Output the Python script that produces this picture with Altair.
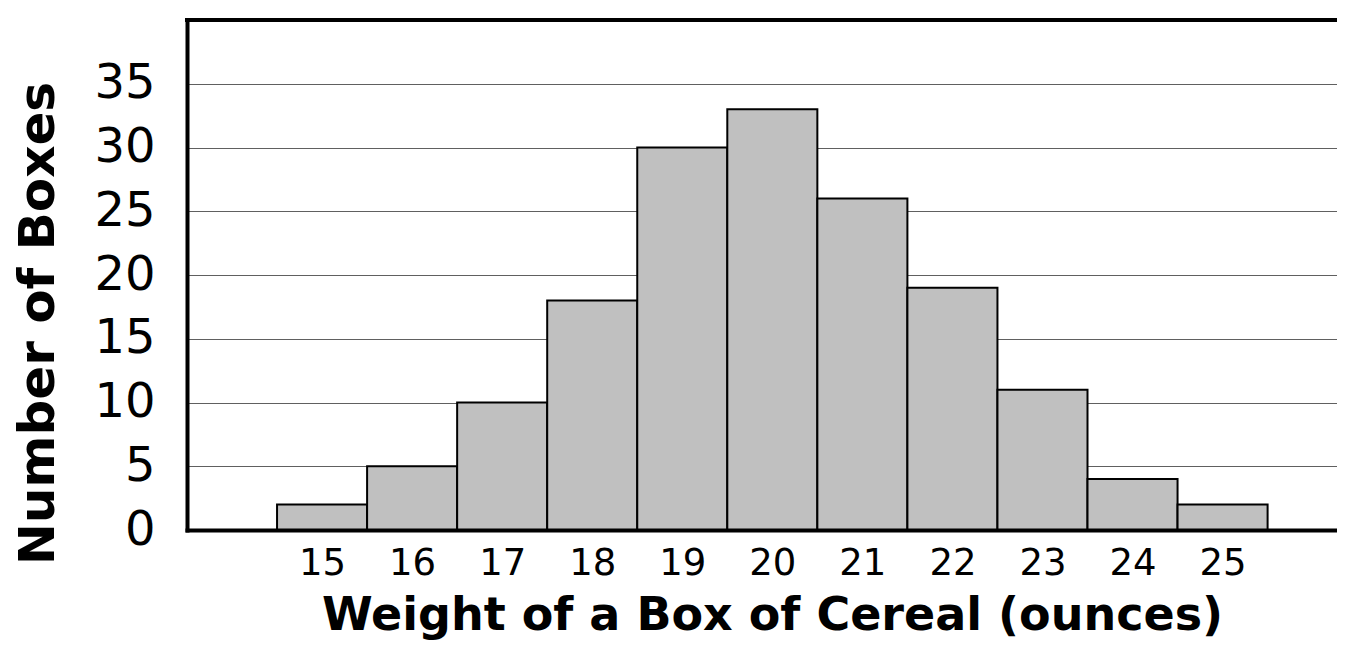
import altair as alt
import pandas as pd

weights = [15, 16, 17, 18, 19, 20, 21, 22, 23, 24, 25]
counts = [2, 5, 10, 18, 30, 33, 26, 19, 11, 4, 2]
y_ticks = [0, 5, 10, 15, 20, 25, 30, 35]

df = pd.DataFrame({"weight": weights, "count": counts})

FONT = "DejaVu Sans"
W, H = 1150, 510

xscale = alt.Scale(domain=[13.5, 13.5 + W / 90.05], nice=False, zero=False)
yscale = alt.Scale(domain=[0, 40], nice=False)

bars = alt.Chart(df).transform_calculate(
    x0="datum.weight - 0.5", x1="datum.weight + 0.5"
).mark_bar(fill="#c0c0c0", stroke="black", strokeWidth=2).encode(
    x=alt.X("x0:Q", scale=xscale, axis=alt.Axis(
        values=weights, title="Weight of a Box of Cereal (ounces)",
        grid=False, ticks=False, tickSize=0, domain=True, domainColor="black",
        domainWidth=4, domainCap="square", labelFont=FONT, labelFontSize=37,
        labelColor="black", labelBaseline="alphabetic", labelPadding=44,
        labelFlush=False, labelOverlap=False,
        titleFont=FONT, titleFontSize=46, titleFontWeight="bold", titleColor="black",
        titleBaseline="alphabetic", titleX=585, titleY=99, titleAlign="center",
        zindex=1,
    )),
    x2="x1:Q",
    y=alt.Y("count:Q", scale=yscale, axis=alt.Axis(
        values=y_ticks, title="Number of Boxes",
        grid=True, gridColor="#606060", gridWidth=1.2,
        ticks=False, tickSize=0, domain=True, domainColor="black",
        domainWidth=4, domainCap="square", labelFont=FONT, labelFontSize=48,
        labelColor="black", labelPadding=32, labelFlush=False, labelOverlap=False,
        titleFont=FONT, titleFontSize=50, titleFontWeight="bold", titleColor="black",
        titleBaseline="alphabetic", titleX=-134, titleY=303, titleAngle=270,
        titleAlign="center", zindex=0,
    )),
    y2=alt.datum(0),
)

top_line = alt.Chart(pd.DataFrame({"top": [40]})).mark_rule(
    color="black", strokeWidth=4, strokeCap="square"
).encode(y=alt.Y("top:Q", scale=yscale))

chart = alt.layer(bars, top_line).properties(
    width=W, height=H,
    autosize=alt.AutoSizeParams(type="none"),
    padding={"left": 179, "top": 12, "right": 0, "bottom": 112},
).configure_view(stroke=None).configure(background="white")

chart.save("out.html", embed_options={"renderer": "svg", "actions": False})
